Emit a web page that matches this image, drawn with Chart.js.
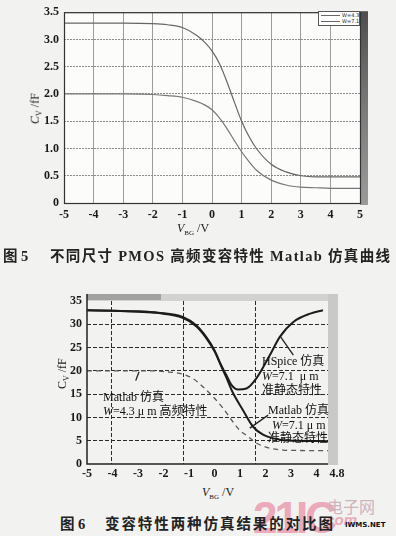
<!DOCTYPE html>
<html>
<head>
<meta charset="utf-8">
<script src="https://cdn.jsdelivr.net/npm/chart.js@4.4.1/dist/chart.umd.min.js"></script>
<style>
  body { margin: 0; width: 396px; height: 536px; overflow: hidden; position: relative;
         background: #f2f2f0; font-family: 'Liberation Serif', 'Noto Sans CJK SC', serif; color: #1a1a1a; }
  canvas { position: absolute; left: 0; }
  .t { position: absolute; white-space: nowrap; line-height: 1; }
  .ann { font-size: 12px; color: #111; }
  .cap { font-family: 'Liberation Serif', 'Noto Sans CJK SC', serif; font-size: 14.5px; font-weight: 700; color: #222; }
  .lg { position: absolute; left: 318px; top: 11px; width: 40px; height: 13px; border: 1px solid #555;
        background: #fff; font-size: 5px; font-family: 'DejaVu Sans', sans-serif; }
  .lg div { position: relative; height: 6px; }
  .lg span.l { position: absolute; left: 2px; top: 3px; width: 19px; border-top: 1px solid #666; }
  .lg span.n { position: absolute; left: 23px; top: 0px; }
</style>
</head>
<body>
<canvas id="top-chart" width="396" height="240" style="top:0"></canvas>
<canvas id="cmp-chart" width="396" height="200" style="top:285px"></canvas>

<!-- watermark (behind the caption) -->
<div class="t" style="left:253px;top:493px;font:700 44px 'Liberation Sans',sans-serif;letter-spacing:-3px;color:#eba9b9;">21IC</div>
<div class="t" style="left:327px;top:494px;font:16px 'Noto Sans CJK SC',sans-serif;color:#cdb3be;">电子网</div>
<div class="t" style="left:322px;top:511px;font:italic 700 15px 'Liberation Sans',sans-serif;color:#eba9b9;">.com</div>
<div class="t" style="left:345px;top:521px;font:700 7px 'DejaVu Sans',sans-serif;color:#111;">IWMS.NET</div>

<!-- legend of fig 5 -->
<div class="lg">
  <div><span class="l"></span><span class="n">W=4.3</span></div>
  <div><span class="l"></span><span class="n">W=7.1</span></div>
</div>

<!-- axis titles -->
<div class="t" style="left:21px;top:101px;font-size:12px;transform:rotate(-90deg);"><i>C</i><sub style="font-size:8px">V</sub> /fF</div>
<div class="t" style="left:177px;top:222px;font-size:12px;"><i>V</i><sub style="font-size:7px">BG</sub> /V</div>
<div class="t" style="left:48px;top:366px;font-size:12px;transform:rotate(-90deg);">C<sub style="font-size:8px">V</sub> /fF</div>
<div class="t" style="left:202px;top:486px;font-size:12px;"><i>V</i><sub style="font-size:7px">BG</sub> /V</div>

<!-- annotations of fig 6 -->
<div class="t ann" style="left:103px;top:391px;">Matlab 仿真</div>
<div class="t ann" style="left:103px;top:405px;"><i>W</i>=4.3 μ m 高频特性</div>
<div class="t ann" style="left:262px;top:355px;">HSpice 仿真</div>
<div class="t ann" style="left:262px;top:370px;"><i>W</i>=7.1&nbsp;&nbsp;μ m</div>
<div class="t ann" style="left:262px;top:384px;">准静态特性</div>
<div class="t ann" style="left:268px;top:404px;">Matlab 仿真</div>
<div class="t ann" style="left:272px;top:419px;"><i>W</i>=7.1 μ m</div>
<div class="t ann" style="left:268px;top:432px;">准静态特性</div>

<!-- captions -->
<div class="t cap" style="left:3px;top:249px;">图 5</div>
<div class="t cap" id="cap5" style="left:50px;top:249px;">不同尺寸 PMOS 高频变容特性 Matlab 仿真曲线</div>
<div class="t cap" style="left:60px;top:517px;">图 6</div>
<div class="t cap" id="cap6" style="left:105px;top:517px;">变容特性两种仿真结果的对比图</div>

<script>
// ---- Fig 5: Matlab high-frequency C-V, two sizes
const topX    = [-5, -4, -3, -2, -1.5, -1, -0.5, -0.25, 0, 0.25, 0.5, 0.75, 1, 1.25, 1.5, 2, 2.5, 3, 3.5, 4, 5];
const topW71  = [3.3, 3.3, 3.3, 3.29, 3.27, 3.22, 3.07, 2.95, 2.79, 2.56, 2.23, 1.86, 1.5, 1.22, 1.0, 0.71, 0.57, 0.5, 0.48, 0.48, 0.48];
const topW43  = [2.0, 2.0, 2.0, 1.99, 1.97, 1.94, 1.86, 1.8, 1.71, 1.56, 1.37, 1.15, 0.94, 0.76, 0.6, 0.42, 0.33, 0.29, 0.28, 0.27, 0.27];
const topXTicks = [-5, -4, -3, -2, -1, 0, 1, 2, 3, 4, 5];
const topYTicks = [0, 0.5, 1.0, 1.5, 2.0, 2.5, 3.0, 3.5];

// ---- Fig 6: HSpice vs Matlab
const hspX = [-5, -4, -3, -2.2, -1.25, -0.72, -0.33, 0, 0.26, 0.46, 0.66, 0.92, 1.25, 1.64, 2.17, 2.56, 3.09, 3.75, 4.25];
const hspY = [33, 32.9, 32.8, 32.5, 31.6, 29.8, 27.3, 24.4, 21.2, 19.1, 17.0, 16.0, 16.2, 18.4, 23.4, 27.3, 30.5, 32.3, 33.0];
const mat71X = [-5, -4, -3, -2.2, -1.25, -0.72, -0.33, 0, 0.26, 0.46, 0.72, 1.11, 1.51, 1.9, 2.3, 2.7, 3.2, 4.46];
const mat71Y = [33, 32.9, 32.7, 32.4, 31.4, 29.6, 27.1, 24.2, 21.0, 18.6, 15.3, 11.6, 8.0, 6.3, 5.5, 5.1, 5.0, 4.9];
const mat43X = [-5, -4, -3, -2.5, -1.91, -1.25, -0.86, -0.46, -0.07, 0.33, 0.66, 0.98, 1.31, 1.64, 2.17, 2.69, 3.3, 4.46];
const mat43Y = [20, 20, 20, 20, 19.8, 19.3, 18.4, 16.6, 14.5, 12.0, 9.5, 7.3, 5.9, 4.5, 3.4, 3.0, 2.9, 2.85];
const cmpXTicks = [-5, -4, -3, -2, -1, 0, 1, 2, 3, 4, 4.8];
const cmpYTicks = [0, 5, 10, 15, 20, 25, 30, 35];
const cmpGridX = [-4.05, -1.22, 1.58];

const pts = (xs, ys) => xs.map((x, i) => ({ x: x, y: ys[i] }));
const tickFont = { family: "'Liberation Serif', serif", size: 12, weight: 'bold' };

// white plot area, frame and grey scan band of fig 5
const topFrame = {
  id: 'topFrame',
  beforeDraw(chart) {
    const a = chart.chartArea, c = chart.ctx;
    c.save();
    c.fillStyle = '#fcfcfb';
    c.fillRect(a.left, a.top, a.right - a.left, a.bottom - a.top);
    c.restore();
  },
  afterDraw(chart) {
    const a = chart.chartArea, c = chart.ctx;
    c.save();
    const g = c.createLinearGradient(0, a.top, 0, a.bottom);
    g.addColorStop(0, '#4e4e4e');
    g.addColorStop(0.5, '#7a7a7a');
    g.addColorStop(1, '#9a9a9a');
    c.fillStyle = g;
    c.fillRect(a.right, a.top - 1, 8, a.bottom - a.top + 3);
    c.strokeStyle = '#333';
    c.lineWidth = 1.2;
    c.strokeRect(a.left + 0.5, a.top + 0.5, a.right - a.left, a.bottom - a.top);
    c.restore();
  }
};

new Chart(document.getElementById('top-chart'), {
  type: 'line',
  data: {
    datasets: [
      { label: 'W=7.1', data: pts(topX, topW71), borderColor: '#666', borderWidth: 1.2,
        pointRadius: 0, cubicInterpolationMode: 'monotone' },
      { label: 'W=4.3', data: pts(topX, topW43), borderColor: '#777', borderWidth: 1.2,
        pointRadius: 0, cubicInterpolationMode: 'monotone' }
    ]
  },
  options: {
    responsive: false,
    animation: false,
    layout: { padding: { top: 10, right: 36, left: 0, bottom: 0 } },
    plugins: { legend: { display: false }, tooltip: { enabled: false } },
    scales: {
      x: {
        type: 'linear', min: -5, max: 5,
        afterBuildTicks: s => { s.ticks = topXTicks.map(v => ({ value: v })); },
        afterFit: s => { s.height = 37; },
        ticks: { color: '#1a1a1a', font: tickFont, padding: 5, autoSkip: false, maxRotation: 0 },
        grid: { color: '#9c9c9c', lineWidth: 1, drawTicks: false },
        border: { display: false }
      },
      y: {
        min: 0, max: 3.5,
        afterBuildTicks: s => { s.ticks = topYTicks.map(v => ({ value: v })); },
        afterFit: s => { s.width = 64; },
        ticks: { color: '#1a1a1a', font: tickFont, padding: 5,
                 callback: v => v === 0 ? '0' : v.toFixed(1) },
        grid: { color: '#8c8c8c', lineWidth: 1, drawTicks: false },
        border: { display: false, dash: [2, 1] }
      }
    }
  },
  plugins: [topFrame]
});

// extra vertical lines, axes, leader lines and scan bands of fig 6
const leaders = [
  [[2.59, 27.3], [3.09, 23.4]],
  [[1.38, 7.7], [2.1, 10.5]],
  [[-2.96, 19.8], [-3.09, 17.9]]
];
const cmpDeco = {
  id: 'cmpDeco',
  beforeDatasetsDraw(chart) {
    const a = chart.chartArea, c = chart.ctx, xs = chart.scales.x;
    c.save();
    c.strokeStyle = '#2a2a2a';
    c.lineWidth = 1;
    c.setLineDash([4, 2]);
    cmpGridX.forEach(v => {
      const px = Math.round(xs.getPixelForValue(v)) + 0.5;
      c.beginPath(); c.moveTo(px, a.top); c.lineTo(px, a.bottom); c.stroke();
    });
    c.restore();
  },
  afterDraw(chart) {
    const a = chart.chartArea, c = chart.ctx, xs = chart.scales.x, ys = chart.scales.y;
    c.save();
    // top band
    c.fillStyle = '#d2d2d0';
    c.fillRect(a.left, a.top - 7, a.right - a.left, 7);
    c.fillStyle = '#a2a2a0';
    c.fillRect(a.left, a.top - 7, 74, 6);
    // right band
    c.fillStyle = '#c9c9c7';
    c.fillRect(a.right - 9, a.top - 7, 10, a.bottom - a.top + 8);
    // axes
    c.strokeStyle = '#222';
    c.lineWidth = 1.5;
    c.beginPath();
    c.moveTo(a.left, a.top - 7); c.lineTo(a.left, a.bottom); c.lineTo(a.right - 9, a.bottom);
    c.stroke();
    // leader lines
    c.lineWidth = 1.3;
    leaders.forEach(l => {
      c.beginPath();
      c.moveTo(xs.getPixelForValue(l[0][0]), ys.getPixelForValue(l[0][1]));
      c.lineTo(xs.getPixelForValue(l[1][0]), ys.getPixelForValue(l[1][1]));
      c.stroke();
    });
    c.restore();
  }
};

new Chart(document.getElementById('cmp-chart'), {
  type: 'line',
  data: {
    datasets: [
      { label: 'HSpice W=7.1', data: pts(hspX, hspY), borderColor: '#1c1c1c', borderWidth: 2,
        pointRadius: 0, cubicInterpolationMode: 'monotone' },
      { label: 'Matlab W=7.1', data: pts(mat71X, mat71Y), borderColor: '#1c1c1c', borderWidth: 2,
        pointRadius: 0, cubicInterpolationMode: 'monotone' },
      { label: 'Matlab W=4.3', data: pts(mat43X, mat43Y), borderColor: '#5a5a5a', borderWidth: 1.3,
        borderDash: [5, 4], pointRadius: 0, cubicInterpolationMode: 'monotone' }
    ]
  },
  options: {
    responsive: false,
    animation: false,
    layout: { padding: { top: 16, right: 59, left: 0, bottom: 0 } },
    plugins: { legend: { display: false }, tooltip: { enabled: false } },
    scales: {
      x: {
        type: 'linear', min: -5, max: 4.8,
        afterBuildTicks: s => { s.ticks = cmpXTicks.map(v => ({ value: v })); },
        afterFit: s => { s.height = 21; },
        ticks: { color: '#1a1a1a', font: tickFont, padding: 3, autoSkip: false, maxRotation: 0 },
        grid: { display: false, drawTicks: false },
        border: { display: false }
      },
      y: {
        min: 0, max: 35,
        afterBuildTicks: s => { s.ticks = cmpYTicks.map(v => ({ value: v })); },
        afterFit: s => { s.width = 87; },
        ticks: { color: '#1a1a1a', font: tickFont, padding: 5 },
        grid: { color: c => (c.tick && (c.tick.value === 0 || c.tick.value === 35)) ? 'rgba(0,0,0,0)' : '#2a2a2a',
                lineWidth: 1, drawTicks: false },
        border: { display: false, dash: [4, 2] }
      }
    }
  },
  plugins: [cmpDeco]
});

// stretch captions to the width they take in the figure
function fit(id, width) {
  const el = document.getElementById(id);
  const n = el.textContent.length;
  const w = el.getBoundingClientRect().width;
  el.style.letterSpacing = ((width - w) / (n - 1)) + 'px';
}
fit('cap5', 340);
fit('cap6', 228);
</script>
</body>
</html>
